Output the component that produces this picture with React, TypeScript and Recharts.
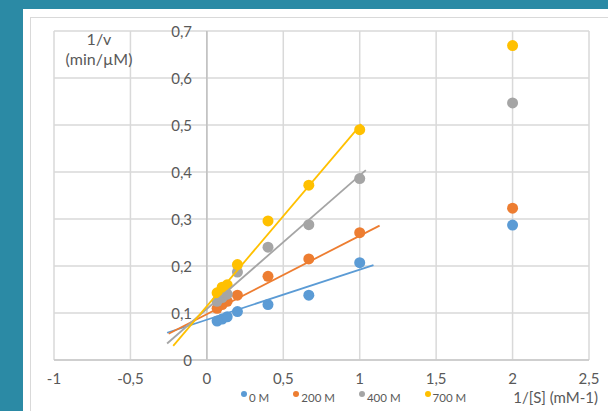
import React from "react";
import {
  ScatterChart,
  Scatter,
  XAxis,
  YAxis,
  CartesianGrid,
  ReferenceLine,
  Legend,
} from "recharts";

const invS = [0.067, 0.1, 0.133, 0.2, 0.4, 0.667, 1, 2];
const inv0 = [0.083, 0.087, 0.092, 0.103, 0.118, 0.138, 0.207, 0.287];
const inv200 = [0.11, 0.118, 0.125, 0.138, 0.178, 0.215, 0.271, 0.323];
const inv400 = [0.125, 0.133, 0.14, 0.187, 0.24, 0.288, 0.386, 0.547];
const inv700 = [0.143, 0.155, 0.16, 0.203, 0.296, 0.372, 0.49, 0.669];

// trendline end points: [x, y]
const trend0 = [[-0.26, 0.058], [1.09, 0.202]];
const trend200 = [[-0.25, 0.056], [1.13, 0.286]];
const trend400 = [[-0.26, 0.035], [1.04, 0.404]];
const trend700 = [[-0.22, 0.03], [1.01, 0.502]];

const seriesNames = ["0 M", "200 M", "400 M", "700 M"];
const xTicks = [-1, -0.5, 0, 0.5, 1, 1.5, 2, 2.5];
const yTicks = [0, 0.1, 0.2, 0.3, 0.4, 0.5, 0.6, 0.7];

const COLORS = ["#5B9BD5", "#ED7D31", "#A5A5A5", "#FFC000"];
const FONT = "Lato, 'Open Sans', sans-serif";
const TXT = "#595959";

const toPts = (ys: number[]) => invS.map((x, i) => ({ x, y: ys[i] }));
const toTrend = (t: number[][]) => t.map(([x, y]) => ({ x, y }));

const series = [inv0, inv200, inv400, inv700].map((ys, i) => ({
  name: seriesNames[i],
  color: COLORS[i],
  data: toPts(ys),
}));
const trends = [trend0, trend200, trend400, trend700].map((t, i) => ({
  color: COLORS[i],
  data: toTrend(t),
}));

const fmt = (v: number) => String(v).replace(".", ",");

// y tick labels sit beside the x = 0 axis line, as in the reference
const renderYTick = (props: any) => {
  const { y, payload } = props;
  return (
    <text
      key={"yt" + payload.value}
      x={192}
      y={y}
      textAnchor="end"
      dominantBaseline="central"
      fill={TXT}
      fontSize={15}
      fontFamily={FONT}
    >
      {fmt(payload.value)}
    </text>
  );
};

const Dot = (color: string) => (props: any) => (
  <circle cx={props.cx} cy={props.cy} r={5.5} fill={color} />
);

const Empty = () => <g />;

const LegendContent = () => (
  <div style={{ display: "flex", alignItems: "center", gap: 24, fontFamily: FONT, fontSize: 11.5, color: TXT }}>
    {series.map((s) => (
      <div key={s.name} style={{ display: "flex", alignItems: "flex-end" }}>
        <span
          style={{
            display: "inline-block",
            width: 6,
            height: 6,
            borderRadius: 3,
            background: s.color,
            marginRight: 2,
            marginBottom: 7,
          }}
        />
        <span>{s.name}</span>
      </div>
    ))}
  </div>
);

export default function App() {
  return (
    <div
      style={{
        position: "fixed",
        left: 0,
        top: 0,
        width: 608,
        height: 411,
        background: "#2b8aa5",
        overflow: "hidden",
      }}
    >
      <div style={{ position: "absolute", left: 23, top: 9, width: 620, height: 420, background: "#ffffff" }} />
      <div
        style={{
          position: "absolute",
          left: 30,
          top: 17,
          width: 620,
          height: 420,
          border: "1px solid #d9d9d9",
        }}
      />
      <div style={{ position: "absolute", left: 0, top: 0 }}>
        <ScatterChart width={608} height={411} margin={{ top: 31, right: 19, bottom: 21, left: 44 }}>
          <CartesianGrid stroke="#d9d9d9" strokeWidth={1.5} />
          <XAxis
            type="number"
            dataKey="x"
            domain={[-1, 2.5]}
            ticks={xTicks}
            tickFormatter={fmt}
            height={30}
            tickLine={false}
            axisLine={{ stroke: "#c8c8c8", strokeWidth: 1.5 }}
            tickMargin={7}
            tick={{ fill: TXT, fontSize: 15, fontFamily: FONT }}
            allowDataOverflow
            label={{
              content: () => (
                <text x={598} y={403} textAnchor="end" fill={TXT} fontSize={15} fontFamily={FONT}>
                  1/[S] (mM-1)
                </text>
              ),
            }}
          />
          <YAxis
            type="number"
            dataKey="y"
            domain={[0, 0.7]}
            ticks={yTicks}
            width={10}
            tickLine={false}
            axisLine={false}
            tick={renderYTick}
            allowDataOverflow
            label={{
              content: () => (
                <g>
                  <text x={99} y={45} textAnchor="middle" fill={TXT} fontSize={16} fontFamily={FONT}>
                    1/v
                  </text>
                  <text x={99} y={65} textAnchor="middle" fill={TXT} fontSize={16} fontFamily={FONT}>
                    (min/µM)
                  </text>
                </g>
              ),
            }}
          />
          <ReferenceLine x={0} stroke="#c0c0c0" strokeWidth={1.5} />
          {series.map((s) => (
            <Scatter
              key={s.name}
              name={s.name}
              data={s.data}
              fill={s.color}
              shape={Dot(s.color)}
              isAnimationActive={false}
            />
          ))}
          {trends.map((t, i) => (
            <Scatter
              key={"t" + i}
              data={t.data}
              fill={t.color}
              line={{ stroke: t.color, strokeWidth: 1.8 }}
              shape={Empty}
              legendType="none"
              isAnimationActive={false}
            />
          ))}
          <Legend
            layout="horizontal"
            verticalAlign="middle"
            align="center"
            content={<LegendContent />}
            wrapperStyle={{ position: "absolute", left: 241, top: 391, width: "auto" }}
          />
        </ScatterChart>
      </div>
    </div>
  );
}
